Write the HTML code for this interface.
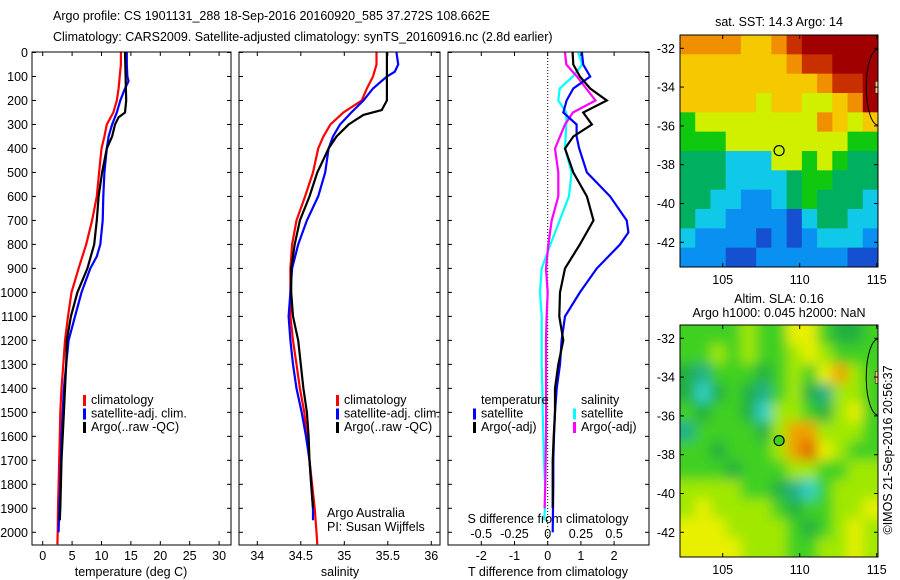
<!DOCTYPE html>
<html><head><meta charset="utf-8"><style>
html,body{margin:0;padding:0;background:#fff;}
svg{display:block;font-family:"Liberation Sans",sans-serif;}
text{font-size:12.5px;fill:#000;}
</style></head><body>
<svg id="c" width="900" height="580" viewBox="0 0 900 580" xmlns="http://www.w3.org/2000/svg">
<defs>
<clipPath id="m1c"><rect x="680" y="35" width="198" height="232"/></clipPath>
<clipPath id="m2c"><rect x="680" y="325" width="198" height="232"/></clipPath>
<filter id="blur" x="-5%" y="-5%" width="110%" height="110%"><feGaussianBlur stdDeviation="6"/></filter>
</defs>
<text x="53" y="20" font-size="13">Argo profile: CS 1901131_288 18-Sep-2016 20160920_585 37.272S 108.662E</text>
<text x="53" y="41" font-size="13">Climatology: CARS2009. Satellite-adjusted climatology: synTS_20160916.nc (2.8d earlier)</text>
<g id="g"></g>
</svg>
<script>
// ---- data ----
const tDepth = [0,50,100,150,200,250,300,350,400,500,600,700,800,900,1000,1100,1200,1300,1400,1500,1600,1700,1800,1900,2000,2050];
const tClim = [13.3,13.3,13.1,12.9,12.6,12.0,10.9,10.5,10.0,9.6,9.2,8.4,7.4,6.1,4.9,4.3,3.8,3.5,3.2,3.0,2.9,2.8,2.7,2.6,2.55,2.5];
const tSatDepth = [0,50,100,120,150,200,250,300,350,400,500,600,700,800,850,900,1000,1100,1200,1300,1400,1500,1600,1700,1800,1900,2000];
const tSat = [14.3,14.3,14.4,14.6,14.0,13.2,12.6,11.8,11.2,10.9,10.5,10.3,10.2,9.8,9.2,8.1,6.6,5.5,4.4,4.0,3.6,3.4,3.2,3.1,3.0,2.8,2.7];
const tArgoDepth = [0,100,200,250,270,300,350,400,500,600,700,800,900,1000,1100,1200,1300,1400,1500,1600,1700,1800,1900,1950];
const tArgo = [14.0,14.1,14.2,14.0,12.9,12.3,11.8,10.9,10.1,9.5,9.2,8.75,7.6,5.9,4.8,4.1,4.0,3.8,3.6,3.4,3.2,3.1,3.0,2.9];

const sClimDepth = [0,50,100,150,200,250,300,350,400,500,600,700,800,900,1000,1100,1200,1300,1400,1500,1600,1700,1800,1900,2000,2050];
const sClim = [35.37,35.37,35.33,35.26,35.2,34.99,34.84,34.76,34.70,34.64,34.55,34.45,34.40,34.38,34.38,34.38,34.41,34.45,34.49,34.54,34.57,34.60,34.63,34.66,34.68,34.69];
const sSatDepth = [0,50,80,100,150,200,250,300,350,400,500,600,700,800,900,1000,1100,1200,1300,1400,1500,1600,1700,1800,1900,1950];
const sSat = [35.6,35.62,35.58,35.49,35.33,35.22,35.08,34.95,34.87,34.82,34.78,34.70,34.57,34.47,34.40,34.38,34.36,34.38,34.41,34.45,34.51,34.56,34.60,34.62,34.64,34.64];
const sArgoDepth = [0,100,200,240,260,300,350,400,500,600,700,800,900,1000,1100,1200,1300,1400,1500,1600,1700,1800,1900];
const sArgo = [35.49,35.49,35.49,35.43,35.22,35.05,34.91,34.82,34.69,34.60,34.49,34.43,34.39,34.39,34.41,34.47,34.50,34.53,34.57,34.59,34.60,34.62,34.64];

const dTSatDepth = [0,50,100,150,200,250,300,350,400,500,600,700,750,800,900,1000,1100,1200,1300,1400,1500,1600,1700,1800,1900,2000];
const dTSat = [1.03,1.07,1.28,0.77,0.57,0.47,0.87,0.87,0.95,1.18,1.88,2.38,2.43,2.18,1.48,0.97,0.52,0.42,0.37,0.27,0.22,0.19,0.17,0.17,0.16,0.15];
const dTArgoDepth = [0,50,100,150,200,250,300,350,400,500,600,700,800,900,1000,1100,1200,1300,1400,1500,1600,1700,1800,1900];
const dTArgo = [0.75,0.77,0.97,1.28,1.78,1.07,1.33,0.77,0.52,0.77,1.18,1.38,0.97,0.52,0.37,0.35,0.47,0.32,0.22,0.22,0.18,0.15,0.15,0.15];
const dSSatDepth = [0,50,100,150,200,250,300,400,500,600,700,800,900,1000,1100,1200,1300,1400,1500,1600,1700,1800,1900,1950];
const dSSat = [0.23,0.26,0.19,0.09,0.08,0.14,0.14,0.13,0.18,0.16,0.09,0.02,-0.045,-0.058,-0.045,-0.045,-0.045,-0.04,-0.038,-0.033,-0.028,-0.02,-0.02,-0.028];
const dSArgoDepth = [0,50,100,150,200,250,300,400,500,600,700,800,900,1000,1100,1200,1400,1600,1800,1900];
const dSArgo = [0.13,0.14,0.22,0.29,0.36,0.19,0.13,0.055,0.08,0.08,0.03,0.005,-0.013,0.0,-0.008,-0.013,-0.013,-0.013,-0.018,-0.023];

const depthTicks = [0,100,200,300,400,500,600,700,800,900,1000,1100,1200,1300,1400,1500,1600,1700,1800,1900,2000];
const tempTicks = [0,5,10,15,20,25,30];
const salTicks = [34,34.5,35,35.5,36];
const dTTicks = [-2,-1,0,1,2];
const dSTicks = [-0.5,-0.25,0,0.25,0.5];
const lonTicks = [105,110,115];
const latTicks = [-32,-34,-36,-38,-40,-42];

const sstGrid = [
[7,7,7,7,6,6,7,8,9,9,9,9,9],
[6,6,6,6,6,6,6,7,8,8,9,9,9],
[6,6,6,6,6,6,6,6,6,7,8,8,9],
[6,6,6,6,6,5,6,6,5,5,6,7,9],
[4,5,5,5,5,5,5,5,5,7,6,5,6],
[4,4,4,5,5,5,5,5,5,5,5,4,4],
[3,3,3,2,2,2,5,5,4,5,4,3,3],
[3,3,3,2,2,2,2,3,4,4,3,3,3],
[3,3,2,2,1,1,2,3,4,3,3,3,2],
[3,2,2,1,1,1,1,0,2,3,3,2,2],
[2,1,1,1,1,0,1,0,1,2,2,2,1],
[1,1,1,0,0,1,1,1,1,1,1,0,0]];
const slaGrid = [
[3,3,3,3,4,3,3,5,5,3,2,2,3],
[3,3,4,3,4,3,3,4,5,4,3,3,3],
[2,1,3,3,3,2,3,4,3,5,6,4,3],
[2,0,2,3,2,1,3,4,2,1,4,4,3],
[3,2,3,3,2,0,4,4,3,2,4,5,3],
[1,3,3,3,3,2,4,6,6,4,4,4,3],
[3,3,2,3,3,3,4,6,7,5,4,3,3],
[3,3,3,2,3,3,3,4,4,3,3,4,4],
[4,4,4,4,3,3,2,1,0,3,4,4,4],
[4,5,4,4,4,4,3,2,3,3,4,4,5],
[5,5,5,4,4,4,4,3,2,3,4,5,4],
[5,5,5,5,4,4,4,3,3,4,4,5,4]];
const argoLon = 108.662, argoLat = -37.272;

// ---- drawing ----
const NS="http://www.w3.org/2000/svg";
const G=document.getElementById('g');
function el(tag,attrs,parent){const e=document.createElementNS(NS,tag);for(const k in attrs)e.setAttribute(k,attrs[k]);(parent||G).appendChild(e);return e;}
function txt(x,y,s,anchor,size){const t=el('text',{x:x,y:y,'text-anchor':anchor||'start'});if(size)t.setAttribute('font-size',size);t.textContent=s;return t;}
const yD = d => 52.5 + d*0.2399;
const xT = v => 42.7 + v*5.88;
const xS = v => 257.3 + (v-34)*87;
const xDT = v => 547.7 + v*33.2;
const xDS = v => 547.7 + v*132.8;
const FT=52, FB=545;

const panels=[{x0:32,x1:231,name:'temperature-panel'},{x0:239,x1:440,name:'salinity-panel'},{x0:448,x1:649,name:'difference-panel'}];
panels.forEach((p,i)=>{
  const r=el('rect',{x:p.x0,y:FT,width:p.x1-p.x0,height:FB-FT,fill:'none',stroke:'#000','stroke-width':1});
  
  
  depthTicks.forEach(d=>{
    el('line',{x1:p.x0,x2:p.x0+4,y1:yD(d),y2:yD(d),stroke:'#000'});
    el('line',{x1:p.x1-4,x2:p.x1,y1:yD(d),y2:yD(d),stroke:'#000'});
  });
});
depthTicks.forEach(d=>{const t=txt(28,yD(d)+4.5,String(d),'end');
  
  });
function xticks(arr,fx,p,yLab){arr.forEach(v=>{const x=fx(v);
  el('line',{x1:x,x2:x,y1:FB,y2:FB-4,stroke:'#000'});
  el('line',{x1:x,x2:x,y1:FT,y2:FT+4,stroke:'#000'});
  const t=txt(x,yLab,String(v),'middle');
  
  });}
xticks(tempTicks,xT,panels[0],560);
xticks(salTicks,xS,panels[1],560);
xticks(dTTicks,xDT,panels[2],560);
dSTicks.forEach(v=>{const t=txt(xDS(v),538,String(v),'middle');
  
  });
let t;
t=txt(131,576,'temperature (deg C)','middle');
t=txt(340,576,'salinity','middle');
t=txt(548,576,'T difference from climatology','middle');
t=txt(548,523,'S difference from climatology','middle');
el('line',{x1:xDT(0),x2:xDT(0),y1:FT,y2:FB,stroke:'#000','stroke-dasharray':'1,2'});

function series(xs,ds,fx,color,name){
  const pts=xs.map((v,i)=>fx(v).toFixed(1)+','+yD(ds[i]).toFixed(1)).join(' ');
  const pl=el('polyline',{points:pts,fill:'none',stroke:color,'stroke-width':2.2,'stroke-linejoin':'miter'});
  
  
}
series(tClim,tDepth,xT,'#f00','temp-climatology-line');
series(tSat,tSatDepth,xT,'#00f','temp-satellite-line');
series(tArgo,tArgoDepth,xT,'#000','temp-argo-line');
series(sClim,sClimDepth,xS,'#f00','sal-climatology-line');
series(sSat,sSatDepth,xS,'#00f','sal-satellite-line');
series(sArgo,sArgoDepth,xS,'#000','sal-argo-line');
series(dSSat,dSSatDepth,xDS,'#0ff','s-diff-satellite-line');
series(dSArgo,dSArgoDepth,xDS,'#f0f','s-diff-argo-line');
series(dTSat,dTSatDepth,xDT,'#00f','t-diff-satellite-line');
series(dTArgo,dTArgoDepth,xDT,'#000','t-diff-argo-line');

function legend(x,y,items){items.forEach((it,i)=>{
  const yy=y+i*13.5;
  if(it[1]){el('rect',{x:x,y:yy-9,width:3,height:11,fill:it[1]});}
  const t=txt(x+8,yy,it[0]);
  
  });}
legend(83,404,[['climatology','#f00'],['satellite-adj. clim.','#00f'],['Argo(..raw -QC)','#000']]);
legend(336,404,[['climatology','#f00'],['satellite-adj. clim.','#00f'],['Argo(..raw -QC)','#000']]);
legend(473,404,[['temperature',null],['satellite','#00f'],['Argo(-adj)','#000']]);
legend(573,404,[['salinity',null],['satellite','#0ff'],['Argo(-adj)','#f0f']]);
t=txt(327,517,'Argo Australia');
t=txt(327,531,'PI: Susan Wijffels');

// ---- maps ----
const sstCols=['#1450d0','#0a90f0','#10c8e8','#00b060','#10c810','#d0f000','#f5c800','#f09000','#c83000','#a00000'];
const slaCols=['#30d0c8','#20b088','#20b040','#40d020','#a0e800','#e8f000','#f0a000','#e06000'];
const lonX = lon => 722.7 + (lon-105)*15.4;
function drawMap(top,grid,cols,clip,blur,name){
  const latY = lat => top + 13.3 + (-32-lat)*19.4;
  const g=el('g',{'clip-path':'url(#'+clip+')'});
  
  
  const inner=el('g',blur?{filter:'url(#blur)'}:{},g);
  const cw=198/grid[0].length, ch=232/grid.length;
  grid.forEach((row,r)=>row.forEach((v,c)=>{
    const cell=el('rect',{x:680+c*cw-(blur&&c==0?20:0),y:top+r*ch-(blur&&r==0?20:0),width:cw+0.6+(blur&&(c==0||c==row.length-1)?20:0),height:ch+0.6+(blur&&(r==0||r==grid.length-1)?20:0),fill:cols[v]},inner);
    
    
  }));
  el('ellipse',{cx:lonX(115.1),cy:latY(-34),rx:12,ry:38,fill:'none',stroke:'#000','stroke-width':1},g);
  el('rect',{x:lonX(114.9),y:latY(-33.7),width:4,height:12,fill:'#f8c080',stroke:'#000','stroke-width':0.5},g);
  const mk=el('circle',{cx:lonX(argoLon),cy:latY(argoLat),r:5,fill:blur?'#40d020':'#c8f000',stroke:'#000','stroke-width':1.2},g);
  
  
  el('rect',{x:680,y:top,width:198,height:232,fill:'none',stroke:'#000'});
  latTicks.forEach(l=>{const y=latY(l);
    el('line',{x1:680,x2:684,y1:y,y2:y,stroke:'#000'});el('line',{x1:874,x2:878,y1:y,y2:y,stroke:'#000'});
    const t=txt(675,y+4.5,String(l),'end');
    
    });
  lonTicks.forEach(l=>{const x=lonX(l);
    el('line',{x1:x,x2:x,y1:top,y2:top+4,stroke:'#000'});el('line',{x1:x,x2:x,y1:top+232,y2:top+228,stroke:'#000'});
    const t=txt(x,top+249,String(l),'middle');
    
    });
}
drawMap(35,sstGrid,sstCols,'m1c',false,'sst-map');
drawMap(325,slaGrid,slaCols,'m2c',true,'sla-map');
t=txt(779,26,'sat. SST: 14.3 Argo: 14','middle');
t=txt(779,303,'Altim. SLA: 0.16','middle');
t=txt(779,317,'Argo h1000: 0.045 h2000: NaN','middle');
t=txt(0,0,'©IMOS 21-Sep-2016 20:56:37','middle');
t.setAttribute('transform','translate(892,450) rotate(-90)');


</script>
</body></html>
